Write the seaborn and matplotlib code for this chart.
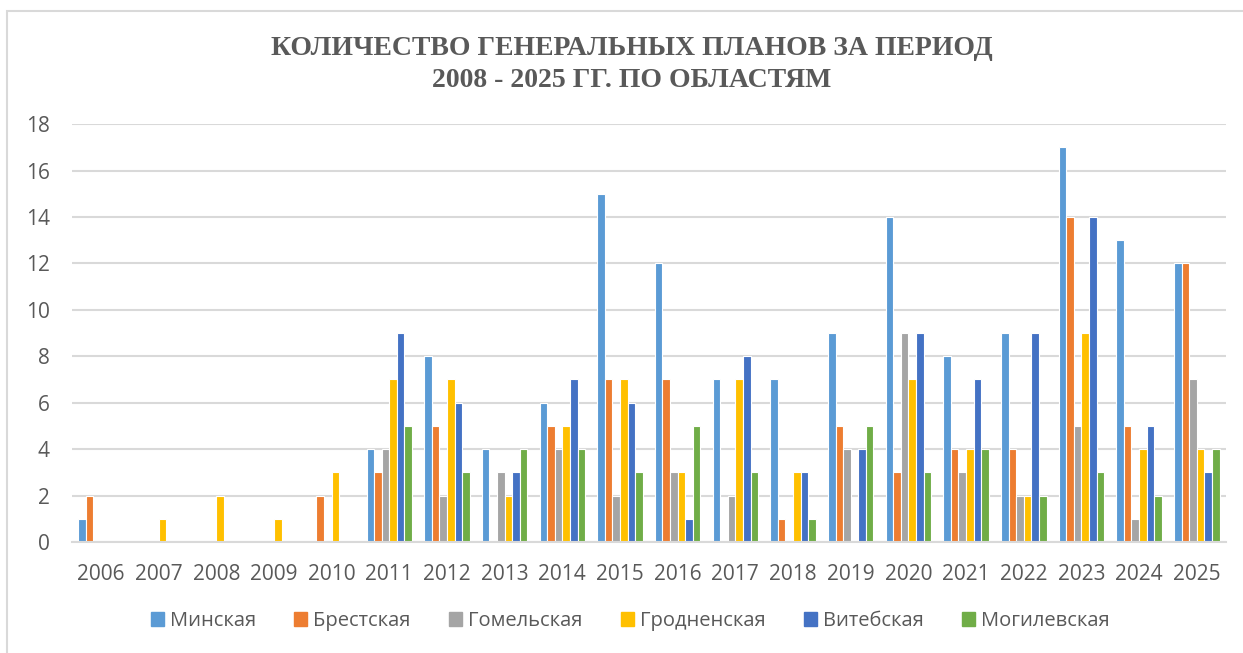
import matplotlib
matplotlib.use("Agg")
import matplotlib.pyplot as plt
import pandas as pd
import seaborn as sns
from matplotlib.patches import Rectangle

years = [str(y) for y in range(2006, 2026)]
regions = ["Минская", "Брестская", "Гомельская", "Гродненская", "Витебская", "Могилевская"]

minsk = [1, 0, 0, 0, 0, 4, 8, 4, 6, 15, 12, 7, 7, 9, 14, 8, 9, 17, 13, 12]
brest = [2, 0, 0, 0, 2, 3, 5, 0, 5, 7, 7, 0, 1, 5, 3, 4, 4, 14, 5, 12]
gomel = [0, 0, 0, 0, 0, 4, 2, 3, 4, 2, 3, 2, 0, 4, 9, 3, 2, 5, 1, 7]
grodno = [0, 1, 2, 1, 3, 7, 7, 2, 5, 7, 3, 7, 3, 0, 7, 4, 2, 9, 4, 4]
vitebsk = [0, 0, 0, 0, 0, 9, 6, 3, 7, 6, 1, 8, 3, 4, 9, 7, 9, 14, 5, 3]
mogilev = [0, 0, 0, 0, 0, 5, 3, 4, 4, 3, 5, 3, 1, 5, 3, 4, 2, 3, 2, 4]

colors = ["#5B9BD5", "#ED7D31", "#A5A5A5", "#FFC000", "#4472C4", "#70AD47"]

rows = []
for region, vals in zip(regions, [minsk, brest, gomel, grodno, vitebsk, mogilev]):
    for year, v in zip(years, vals):
        rows.append({"Год": year, "Область": region, "Количество": v})
df = pd.DataFrame(rows)
# zero bars are not drawn (they would leave white edges on the baseline)
df_plot = df[df["Количество"] > 0]

sns.set_style("white")
plt.rcParams["font.family"] = ["Open Sans", "DejaVu Sans"]

fig = plt.figure(figsize=(12.43, 6.53), dpi=100)
ax = fig.add_axes([0.058, 0.170, 0.928, 0.640])

sns.barplot(
    data=df_plot,
    x="Год",
    y="Количество",
    hue="Область",
    order=years,
    hue_order=regions,
    palette=colors,
    width=0.79,
    edgecolor="white",
    linewidth=0.8,
    saturation=1,
    ax=ax,
    legend=False,
)

ax.set_ylim(0, 18)
ax.set_yticks(range(0, 19, 2))
ax.set_xlim(-0.5, len(years) - 0.5)
ax.yaxis.grid(True, color="#D9D9D9", linewidth=1.5)
ax.set_axisbelow(True)
for side in ["top", "right", "left"]:
    ax.spines[side].set_visible(False)
ax.spines["bottom"].set_color("#D9D9D9")
ax.spines["bottom"].set_linewidth(1.5)
ax.set_xlabel("")
ax.set_ylabel("")
ax.tick_params(axis="both", length=0, labelsize=15, labelcolor="#595959")
ax.tick_params(axis="x", pad=16)
ax.tick_params(axis="y", pad=16)

handles = [Rectangle((0, 0), 1, 1, color=c) for c in colors]
fig.legend(
    handles, regions,
    loc="center", bbox_to_anchor=(0.507, 0.049), ncol=6, frameon=False,
    fontsize=14.5, labelcolor="#595959",
    handlelength=0.65, handleheight=0.65, handletextpad=0.3, columnspacing=1.9,
)

fig.text(0.508, 0.926, "КОЛИЧЕСТВО ГЕНЕРАЛЬНЫХ ПЛАНОВ ЗА ПЕРИОД",
         ha="center", va="center", fontsize=20, fontweight="bold",
         color="#595959", family="Liberation Serif")
fig.text(0.508, 0.877, "2008 - 2025 ГГ. ПО ОБЛАСТЯМ",
         ha="center", va="center", fontsize=20, fontweight="bold",
         color="#595959", family="Liberation Serif")

fig.patches.append(Rectangle((0.006, -0.1), 1.1, 1.083, transform=fig.transFigure,
                             fill=False, edgecolor="#D9D9D9", linewidth=1.5))

fig.savefig("out.png", dpi=100)
